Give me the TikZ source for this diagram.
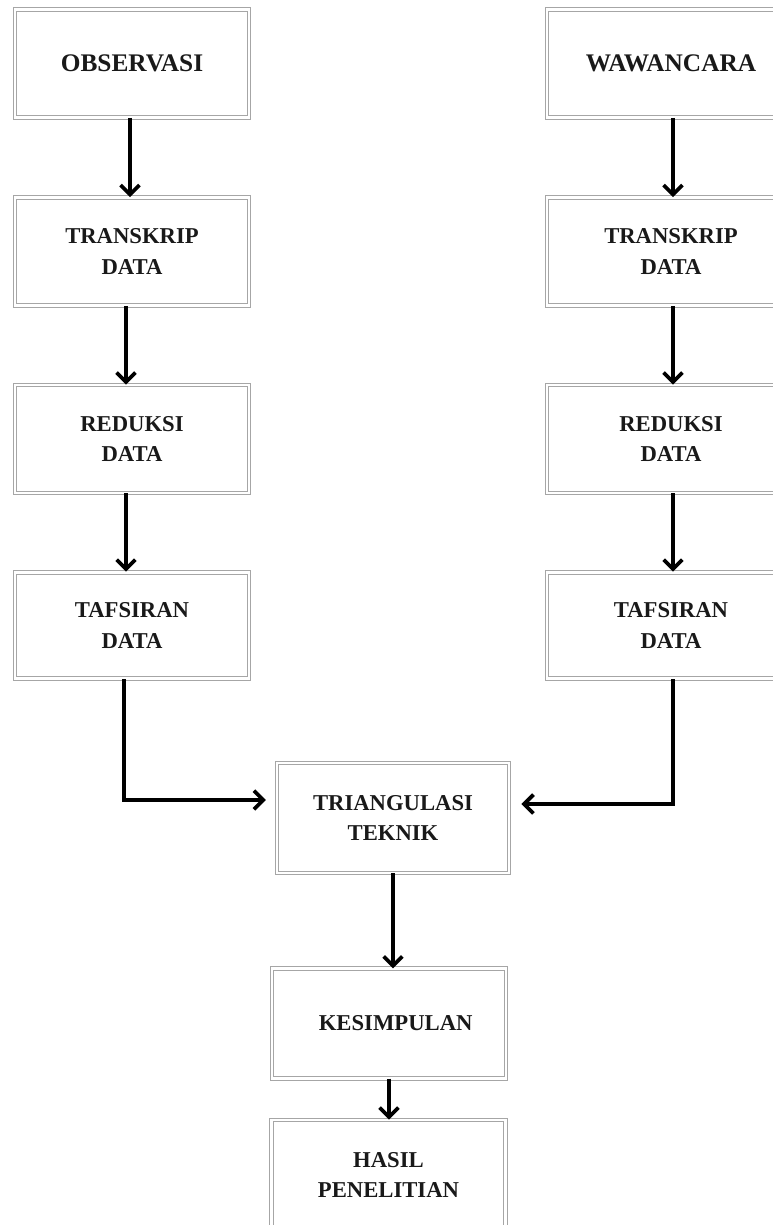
\documentclass[tikz,border=0pt]{standalone}
\usepackage{fontspec}
\setmainfont{Liberation Serif}
\usetikzlibrary{arrows.meta}
\begin{document}
\begin{tikzpicture}[x=0.75pt,y=-0.75pt,
  box/.style={draw=gray!70, line width=0.7pt, double=white, double distance=2.2pt,
    minimum width=175.5pt, minimum height=81pt, align=center, inner sep=2pt,
    font=\fontsize{17}{23}\selectfont\bfseries, text=black!90},
  topbox/.style={box, font=\fontsize{19}{24}\selectfont\bfseries},
  arr/.style={-{Straight Barb[length=7pt,width=14pt]}, line width=2.8pt, draw=black}]
\useasboundingbox (0,0) rectangle (772,1225);
% left column
\node[topbox] (obs) at (132,63.5) {OBSERVASI};
\node[box] (lt1) at (132,251.5) {TRANSKRIP\\DATA};
\node[box] (lt2) at (132,439) {REDUKSI\\DATA};
\node[box, minimum height=80pt] (lt3) at (132,625.5) {TAFSIRAN\\DATA};
% right column
\node[topbox, minimum width=186pt] (waw) at (671,63.5) {WAWANCARA};
\node[box, minimum width=186pt] (rt1) at (671,251.5) {TRANSKRIP\\DATA};
\node[box, minimum width=186pt] (rt2) at (671,439) {REDUKSI\\DATA};
\node[box, minimum width=186pt, minimum height=80pt] (rt3) at (671,625.5) {TAFSIRAN\\DATA};
% centre
\node[box, minimum width=174pt, minimum height=82.5pt] (tri) at (393,818) {TRIANGULASI\\TEKNIK};
\node[box, minimum width=175.5pt, minimum height=82pt] (kes) at (389,1023.5) {\hspace*{10pt}KESIMPULAN};
\node[box, minimum width=175pt, minimum height=82.5pt] (has) at (388.5,1175) {HASIL\\PENELITIAN};
% left arrows
\draw[arr] ([xshift=-1.5pt]obs.south) -- ([xshift=-1.5pt]lt1.north);
\draw[arr] ([xshift=-4.5pt]lt1.south) -- ([xshift=-4.5pt]lt2.north);
\draw[arr] ([xshift=-4.5pt]lt2.south) -- ([xshift=-4.5pt]lt3.north);
% right arrows
\draw[arr] ([xshift=1.5pt]waw.south) -- ([xshift=1.5pt]rt1.north);
\draw[arr] ([xshift=1.5pt]rt1.south) -- ([xshift=1.5pt]rt2.north);
\draw[arr] ([xshift=1.5pt]rt2.south) -- ([xshift=1.5pt]rt3.north);
% elbows into triangulasi
\draw[arr] ([xshift=-6pt]lt3.south) |- ([xshift=-8pt,yshift=13.5pt]tri.west);
\draw[arr] ([xshift=1.5pt]rt3.south) |- ([xshift=9pt,yshift=10.5pt]tri.east);
% bottom chain
\draw[arr] (tri.south) -- (tri.south |- kes.north);
\draw[arr] (kes.south) -- (kes.south |- has.north);
\end{tikzpicture}
\end{document}
